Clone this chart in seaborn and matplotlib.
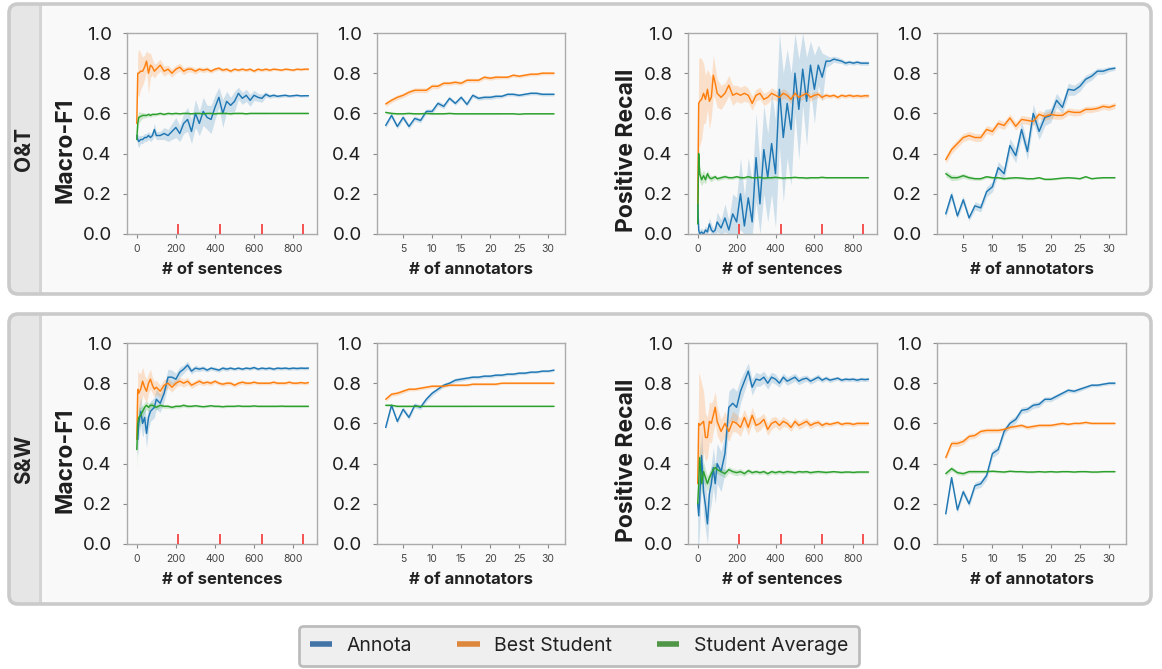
import matplotlib
matplotlib.use("Agg")
import matplotlib.pyplot as plt
import seaborn as sns
import numpy as np
from matplotlib.patches import FancyBboxPatch, Rectangle
from matplotlib.lines import Line2D

sns.set_theme(style="ticks")
plt.rcParams["font.family"] = ["Inter", "DejaVu Sans"]

# ---------------- data ----------------
series_names = ["Annota", "Best Student", "Student Average"]
row_names = ["O&T", "S&W"]
metric_names = ["Macro-F1", "Positive Recall"]
red_marks = [213, 426, 639, 852]

x_sent = [0, 5, 10, 20, 30, 40, 50, 60, 70, 80, 90, 100, 120, 140, 160, 180, 200, 220, 240, 260,
          280, 300, 320, 340, 360, 380, 400, 420, 440, 460, 480, 500, 520, 540, 560, 580, 600, 620,
          640, 660, 680, 700, 720, 740, 760, 780, 800, 820, 840, 860, 878]
x_ann = [2, 3, 4, 5, 6, 7, 8, 9, 10, 11, 12, 13, 14, 15, 16, 17, 18, 19, 20, 21, 22, 23, 24, 25,
         26, 27, 28, 29, 30, 31]

# O&T, Macro-F1 vs sentences
ot_f1_s_annota = [0.49, 0.47, 0.46, 0.47, 0.47, 0.48, 0.48, 0.49, 0.48, 0.49,
                  0.52, 0.49, 0.49, 0.50, 0.49, 0.51, 0.53, 0.50, 0.55, 0.57,
                  0.51, 0.60, 0.55, 0.61, 0.58, 0.57, 0.63, 0.68, 0.60, 0.66,
                  0.64, 0.66, 0.70, 0.675, 0.69, 0.665, 0.69, 0.68, 0.675, 0.695,
                  0.685, 0.69, 0.685, 0.688, 0.69, 0.686, 0.688, 0.69, 0.687, 0.688, 0.688]
ot_f1_s_annota_ci = [0.02, 0.03, 0.03, 0.02, 0.02, 0.02, 0.02, 0.02, 0.02, 0.02,
                     0.03, 0.02, 0.02, 0.03, 0.03, 0.04, 0.05, 0.04, 0.05, 0.06,
                     0.06, 0.07, 0.06, 0.07, 0.06, 0.07, 0.06, 0.05, 0.07, 0.05,
                     0.04, 0.05, 0.03, 0.03, 0.03, 0.03, 0.025, 0.02, 0.02, 0.012,
                     0.01, 0.01, 0.008, 0.008, 0.008, 0.007, 0.007, 0.007, 0.006, 0.006, 0.006]
ot_f1_s_best = [0.55, 0.80, 0.80, 0.81, 0.81, 0.83, 0.86, 0.80, 0.84, 0.83,
                0.81, 0.82, 0.84, 0.81, 0.82, 0.80, 0.82, 0.83, 0.81, 0.82,
                0.82, 0.81, 0.82, 0.815, 0.82, 0.81, 0.82, 0.825, 0.815, 0.82,
                0.81, 0.82, 0.815, 0.82, 0.815, 0.82, 0.81, 0.82, 0.815, 0.82,
                0.815, 0.82, 0.818, 0.815, 0.82, 0.818, 0.815, 0.82, 0.818, 0.82, 0.82]
ot_f1_s_best_ci = [0.02, 0.10, 0.12, 0.09, 0.07, 0.06, 0.05, 0.10, 0.06, 0.04,
                   0.035, 0.03, 0.03, 0.025, 0.02, 0.02, 0.02, 0.02, 0.018, 0.015,
                   0.015, 0.015, 0.012, 0.012, 0.012, 0.01, 0.01, 0.01, 0.01, 0.01,
                   0.008, 0.008, 0.008, 0.008, 0.008, 0.008, 0.008, 0.008, 0.008, 0.008,
                   0.008, 0.006, 0.006, 0.006, 0.006, 0.006, 0.006, 0.006, 0.006, 0.006, 0.006]
ot_f1_s_avg = [0.47, 0.55, 0.58, 0.585, 0.59, 0.59, 0.59, 0.595, 0.59, 0.595,
               0.595, 0.595, 0.60, 0.595, 0.60, 0.598, 0.60, 0.598, 0.60, 0.60,
               0.598, 0.60, 0.60, 0.598, 0.60, 0.60, 0.598, 0.60, 0.60, 0.60,
               0.598, 0.60, 0.60, 0.60, 0.598, 0.60, 0.60, 0.60, 0.60, 0.60,
               0.60, 0.60, 0.60, 0.60, 0.60, 0.60, 0.60, 0.60, 0.60, 0.60, 0.60]
ot_f1_s_avg_ci = [0.02, 0.04, 0.03, 0.02, 0.015, 0.012, 0.01, 0.01, 0.01, 0.008,
                  0.008, 0.007, 0.007, 0.006, 0.006, 0.006, 0.006, 0.005, 0.005, 0.005,
                  0.005, 0.005, 0.005, 0.005, 0.005, 0.005, 0.005, 0.005, 0.005, 0.005,
                  0.005, 0.005, 0.005, 0.005, 0.005, 0.005, 0.005, 0.005, 0.005, 0.005,
                  0.004, 0.004, 0.004, 0.004, 0.004, 0.004, 0.004, 0.004, 0.004, 0.004, 0.004]

# O&T, Positive Recall vs sentences
ot_rc_s_annota = [0.15, 0.02, 0.00, 0.01, 0.00, 0.02, 0.01, 0.05, 0.02, 0.01,
                  0.02, 0.06, 0.03, 0.08, 0.02, 0.10, 0.06, 0.20, 0.04, 0.18,
                  0.06, 0.38, 0.15, 0.42, 0.28, 0.45, 0.30, 0.72, 0.48, 0.65,
                  0.52, 0.80, 0.62, 0.82, 0.66, 0.84, 0.72, 0.84, 0.78, 0.86,
                  0.86, 0.87, 0.865, 0.86, 0.85, 0.855, 0.85, 0.855, 0.85, 0.85, 0.85]
ot_rc_s_annota_ci = [0.10, 0.03, 0.02, 0.02, 0.02, 0.02, 0.02, 0.03, 0.03, 0.02,
                     0.03, 0.05, 0.04, 0.07, 0.05, 0.10, 0.12, 0.18, 0.15, 0.20,
                     0.20, 0.22, 0.20, 0.22, 0.22, 0.25, 0.27, 0.28, 0.32, 0.27,
                     0.28, 0.20, 0.25, 0.18, 0.22, 0.12, 0.17, 0.10, 0.12, 0.03,
                     0.02, 0.015, 0.015, 0.012, 0.012, 0.01, 0.01, 0.01, 0.01, 0.01, 0.01]
ot_rc_s_best = [0.15, 0.65, 0.66, 0.67, 0.70, 0.67, 0.72, 0.66, 0.68, 0.79,
                0.75, 0.70, 0.68, 0.70, 0.74, 0.69, 0.70, 0.69, 0.70, 0.69,
                0.65, 0.69, 0.70, 0.67, 0.68, 0.70, 0.69, 0.68, 0.70, 0.69,
                0.67, 0.70, 0.68, 0.69, 0.70, 0.68, 0.69, 0.695, 0.68, 0.69,
                0.685, 0.69, 0.68, 0.69, 0.685, 0.69, 0.685, 0.688, 0.685, 0.688, 0.687]
ot_rc_s_best_ci = [0.10, 0.22, 0.22, 0.20, 0.15, 0.12, 0.10, 0.14, 0.10, 0.10,
                   0.08, 0.07, 0.06, 0.05, 0.05, 0.05, 0.04, 0.04, 0.04, 0.035,
                   0.035, 0.03, 0.03, 0.03, 0.03, 0.028, 0.025, 0.025, 0.025, 0.02,
                   0.02, 0.02, 0.02, 0.02, 0.02, 0.02, 0.018, 0.015, 0.015, 0.012,
                   0.01, 0.01, 0.01, 0.01, 0.01, 0.01, 0.01, 0.01, 0.01, 0.01, 0.01]
ot_rc_s_avg = [0.05, 0.40, 0.30, 0.27, 0.29, 0.27, 0.30, 0.28, 0.275, 0.28,
               0.285, 0.275, 0.28, 0.285, 0.28, 0.28, 0.285, 0.28, 0.28, 0.285,
               0.28, 0.28, 0.282, 0.278, 0.28, 0.28, 0.282, 0.28, 0.278, 0.28,
               0.28, 0.282, 0.28, 0.28, 0.278, 0.28, 0.28, 0.28, 0.282, 0.28,
               0.28, 0.28, 0.28, 0.28, 0.28, 0.28, 0.28, 0.28, 0.28, 0.28, 0.28]
ot_rc_s_avg_ci = [0.05, 0.05, 0.04, 0.03, 0.03, 0.02, 0.02, 0.015, 0.015, 0.012,
                  0.01, 0.01, 0.01, 0.01, 0.008, 0.008, 0.008, 0.008, 0.007, 0.007,
                  0.006, 0.006, 0.006, 0.006, 0.006, 0.006, 0.006, 0.006, 0.006, 0.006,
                  0.005, 0.005, 0.005, 0.005, 0.005, 0.005, 0.005, 0.005, 0.005, 0.005,
                  0.004, 0.004, 0.004, 0.004, 0.004, 0.004, 0.004, 0.004, 0.004, 0.004, 0.004]

# S&W, Macro-F1 vs sentences
sw_f1_s_annota = [0.53, 0.52, 0.60, 0.66, 0.60, 0.63, 0.55, 0.63, 0.66, 0.67,
                  0.68, 0.72, 0.70, 0.75, 0.83, 0.83, 0.82, 0.855, 0.87, 0.89,
                  0.86, 0.875, 0.87, 0.875, 0.865, 0.875, 0.87, 0.865, 0.875, 0.87,
                  0.875, 0.87, 0.875, 0.87, 0.875, 0.872, 0.878, 0.87, 0.875, 0.872,
                  0.875, 0.87, 0.875, 0.873, 0.875, 0.872, 0.875, 0.873, 0.875, 0.874, 0.875]
sw_f1_s_annota_ci = [0.06, 0.08, 0.08, 0.07, 0.07, 0.06, 0.07, 0.06, 0.05, 0.05,
                     0.05, 0.05, 0.045, 0.04, 0.04, 0.035, 0.03, 0.025, 0.02, 0.02,
                     0.015, 0.015, 0.012, 0.012, 0.01, 0.01, 0.01, 0.01, 0.01, 0.01,
                     0.008, 0.008, 0.008, 0.008, 0.008, 0.008, 0.008, 0.008, 0.008, 0.008,
                     0.008, 0.008, 0.008, 0.008, 0.008, 0.008, 0.008, 0.008, 0.008, 0.008, 0.008]
sw_f1_s_best = [0.52, 0.77, 0.75, 0.77, 0.81, 0.78, 0.76, 0.80, 0.82, 0.79,
                0.77, 0.78, 0.76, 0.79, 0.80, 0.78, 0.80, 0.81, 0.80, 0.81,
                0.79, 0.80, 0.81, 0.80, 0.805, 0.80, 0.81, 0.80, 0.795, 0.80,
                0.80, 0.79, 0.80, 0.805, 0.80, 0.80, 0.805, 0.80, 0.80, 0.80,
                0.80, 0.805, 0.80, 0.80, 0.80, 0.805, 0.80, 0.80, 0.803, 0.80, 0.803]
sw_f1_s_best_ci = [0.05, 0.10, 0.10, 0.08, 0.07, 0.06, 0.06, 0.05, 0.05, 0.04,
                   0.04, 0.035, 0.03, 0.03, 0.025, 0.025, 0.02, 0.02, 0.02, 0.018,
                   0.015, 0.015, 0.015, 0.012, 0.012, 0.012, 0.01, 0.01, 0.01, 0.01,
                   0.01, 0.01, 0.01, 0.01, 0.01, 0.008, 0.008, 0.008, 0.008, 0.008,
                   0.008, 0.008, 0.008, 0.008, 0.008, 0.008, 0.008, 0.008, 0.008, 0.008, 0.008]
sw_f1_s_avg = [0.47, 0.60, 0.63, 0.64, 0.66, 0.68, 0.69, 0.68, 0.69, 0.69,
               0.685, 0.68, 0.69, 0.685, 0.685, 0.68, 0.685, 0.685, 0.69, 0.685,
               0.685, 0.688, 0.685, 0.683, 0.685, 0.688, 0.685, 0.685, 0.683, 0.685,
               0.685, 0.685, 0.687, 0.685, 0.685, 0.685, 0.687, 0.685, 0.685, 0.685,
               0.685, 0.685, 0.685, 0.686, 0.685, 0.685, 0.685, 0.685, 0.685, 0.685, 0.685]
sw_f1_s_avg_ci = [0.10, 0.06, 0.05, 0.04, 0.03, 0.025, 0.02, 0.02, 0.015, 0.015,
                  0.012, 0.012, 0.01, 0.01, 0.01, 0.008, 0.008, 0.008, 0.008, 0.008,
                  0.006, 0.006, 0.006, 0.006, 0.006, 0.006, 0.006, 0.006, 0.006, 0.006,
                  0.005, 0.005, 0.005, 0.005, 0.005, 0.005, 0.005, 0.005, 0.005, 0.005,
                  0.005, 0.005, 0.005, 0.005, 0.005, 0.005, 0.005, 0.005, 0.005, 0.005, 0.005]

# S&W, Positive Recall vs sentences
sw_rc_s_annota = [0.20, 0.14, 0.22, 0.44, 0.26, 0.19, 0.10, 0.25, 0.30, 0.38,
                  0.30, 0.40, 0.36, 0.45, 0.68, 0.70, 0.68, 0.76, 0.81, 0.86,
                  0.78, 0.82, 0.815, 0.83, 0.80, 0.83, 0.82, 0.80, 0.83, 0.81,
                  0.82, 0.83, 0.81, 0.82, 0.825, 0.81, 0.82, 0.83, 0.815, 0.825,
                  0.815, 0.82, 0.825, 0.815, 0.82, 0.818, 0.82, 0.815, 0.82, 0.818, 0.82]
sw_rc_s_annota_ci = [0.20, 0.15, 0.15, 0.12, 0.12, 0.12, 0.10, 0.10, 0.10, 0.10,
                     0.10, 0.10, 0.10, 0.10, 0.08, 0.08, 0.08, 0.06, 0.05, 0.04,
                     0.04, 0.035, 0.03, 0.03, 0.03, 0.025, 0.025, 0.02, 0.02, 0.02,
                     0.02, 0.02, 0.018, 0.018, 0.015, 0.015, 0.015, 0.015, 0.012, 0.012,
                     0.012, 0.01, 0.01, 0.01, 0.01, 0.01, 0.01, 0.01, 0.01, 0.01, 0.01]
sw_rc_s_best = [0.30, 0.60, 0.59, 0.60, 0.61, 0.53, 0.53, 0.61, 0.60, 0.64,
                0.68, 0.61, 0.56, 0.60, 0.56, 0.61, 0.60, 0.58, 0.63, 0.58,
                0.64, 0.59, 0.60, 0.62, 0.57, 0.60, 0.61, 0.59, 0.61, 0.60,
                0.58, 0.61, 0.59, 0.60, 0.61, 0.59, 0.60, 0.605, 0.59, 0.60,
                0.595, 0.60, 0.605, 0.595, 0.60, 0.60, 0.595, 0.60, 0.60, 0.60, 0.60]
sw_rc_s_best_ci = [0.10, 0.25, 0.25, 0.20, 0.15, 0.12, 0.10, 0.10, 0.10, 0.08,
                   0.08, 0.07, 0.06, 0.06, 0.05, 0.05, 0.045, 0.045, 0.04, 0.04,
                   0.04, 0.035, 0.035, 0.03, 0.03, 0.03, 0.025, 0.025, 0.025, 0.02,
                   0.02, 0.02, 0.02, 0.02, 0.018, 0.018, 0.015, 0.015, 0.012, 0.012,
                   0.01, 0.01, 0.01, 0.01, 0.01, 0.01, 0.01, 0.01, 0.01, 0.01, 0.01]
sw_rc_s_avg = [0.20, 0.30, 0.43, 0.30, 0.36, 0.33, 0.30, 0.33, 0.35, 0.37,
               0.38, 0.37, 0.36, 0.35, 0.37, 0.36, 0.355, 0.36, 0.35, 0.365,
               0.355, 0.36, 0.355, 0.36, 0.35, 0.36, 0.355, 0.36, 0.355, 0.36,
               0.358, 0.355, 0.36, 0.358, 0.36, 0.355, 0.358, 0.36, 0.358, 0.356,
               0.358, 0.36, 0.358, 0.356, 0.358, 0.358, 0.356, 0.358, 0.358, 0.358, 0.358]
sw_rc_s_avg_ci = [0.06, 0.08, 0.08, 0.06, 0.05, 0.04, 0.04, 0.03, 0.03, 0.03,
                  0.025, 0.02, 0.02, 0.02, 0.015, 0.015, 0.015, 0.015, 0.012, 0.012,
                  0.01, 0.01, 0.01, 0.01, 0.01, 0.01, 0.01, 0.01, 0.01, 0.01,
                  0.008, 0.008, 0.008, 0.008, 0.008, 0.008, 0.008, 0.008, 0.008, 0.008,
                  0.006, 0.006, 0.006, 0.006, 0.006, 0.006, 0.006, 0.006, 0.006, 0.006, 0.006]

# O&T, Macro-F1 vs annotators
ot_f1_a_annota = [0.54, 0.59, 0.535, 0.58, 0.535, 0.575, 0.565, 0.61, 0.61, 0.65,
                  0.635, 0.675, 0.65, 0.68, 0.645, 0.69, 0.675, 0.68, 0.68, 0.685,
                  0.685, 0.695, 0.695, 0.69, 0.695, 0.70, 0.70, 0.695, 0.695, 0.695]
ot_f1_a_annota_ci = [0.012, 0.012, 0.012, 0.012, 0.012, 0.012, 0.012, 0.012, 0.012, 0.012,
                     0.012, 0.01, 0.01, 0.01, 0.01, 0.01, 0.01, 0.01, 0.01, 0.01,
                     0.008, 0.008, 0.008, 0.008, 0.008, 0.008, 0.008, 0.008, 0.008, 0.008]
ot_f1_a_best = [0.647, 0.665, 0.68, 0.69, 0.705, 0.715, 0.715, 0.715, 0.735, 0.735,
                0.75, 0.75, 0.755, 0.75, 0.765, 0.765, 0.765, 0.78, 0.775, 0.78,
                0.78, 0.78, 0.79, 0.785, 0.79, 0.795, 0.795, 0.80, 0.80, 0.80]
ot_f1_a_best_ci = [0.012, 0.012, 0.012, 0.012, 0.012, 0.012, 0.012, 0.012, 0.012, 0.012,
                   0.01, 0.01, 0.01, 0.01, 0.01, 0.01, 0.01, 0.01, 0.01, 0.01,
                   0.008, 0.008, 0.008, 0.008, 0.008, 0.008, 0.008, 0.008, 0.008, 0.008]
ot_f1_a_avg = [0.605, 0.60, 0.598, 0.598, 0.60, 0.598, 0.598, 0.60, 0.598, 0.598,
               0.598, 0.60, 0.598, 0.598, 0.598, 0.598, 0.598, 0.598, 0.598, 0.598,
               0.598, 0.598, 0.598, 0.596, 0.598, 0.598, 0.598, 0.598, 0.598, 0.598]
ot_f1_a_avg_ci = [0.006, 0.006, 0.005, 0.005, 0.005, 0.005, 0.005, 0.004, 0.004, 0.004,
                  0.004, 0.004, 0.004, 0.004, 0.004, 0.004, 0.004, 0.004, 0.004, 0.004,
                  0.003, 0.003, 0.003, 0.003, 0.003, 0.003, 0.003, 0.003, 0.003, 0.003]

# O&T, Positive Recall vs annotators
ot_rc_a_annota = [0.10, 0.195, 0.09, 0.17, 0.08, 0.14, 0.13, 0.21, 0.235, 0.33,
                  0.30, 0.44, 0.39, 0.52, 0.41, 0.60, 0.51, 0.58, 0.59, 0.665,
                  0.63, 0.72, 0.715, 0.735, 0.77, 0.785, 0.81, 0.81, 0.82, 0.825]
ot_rc_a_annota_ci = [0.02, 0.02, 0.015, 0.02, 0.015, 0.02, 0.02, 0.025, 0.025, 0.03,
                     0.03, 0.035, 0.035, 0.04, 0.04, 0.045, 0.04, 0.04, 0.035, 0.035,
                     0.03, 0.03, 0.025, 0.025, 0.02, 0.02, 0.015, 0.015, 0.012, 0.01]
ot_rc_a_best = [0.37, 0.42, 0.45, 0.48, 0.49, 0.48, 0.48, 0.52, 0.51, 0.55,
                0.54, 0.577, 0.536, 0.57, 0.565, 0.56, 0.595, 0.585, 0.595, 0.59,
                0.59, 0.61, 0.605, 0.605, 0.62, 0.62, 0.625, 0.635, 0.63, 0.64]
ot_rc_a_best_ci = [0.02, 0.02, 0.02, 0.02, 0.02, 0.02, 0.02, 0.02, 0.02, 0.02,
                   0.02, 0.02, 0.02, 0.02, 0.02, 0.02, 0.02, 0.02, 0.02, 0.02,
                   0.018, 0.018, 0.018, 0.016, 0.016, 0.016, 0.015, 0.015, 0.015, 0.015]
ot_rc_a_avg = [0.30, 0.28, 0.28, 0.29, 0.28, 0.275, 0.275, 0.285, 0.28, 0.28,
               0.275, 0.278, 0.28, 0.278, 0.275, 0.275, 0.28, 0.272, 0.272, 0.275,
               0.278, 0.28, 0.278, 0.275, 0.285, 0.275, 0.278, 0.28, 0.28, 0.28]
ot_rc_a_avg_ci = [0.015, 0.015, 0.012, 0.012, 0.01, 0.008, 0.008, 0.007, 0.007, 0.006,
                  0.006, 0.006, 0.006, 0.006, 0.006, 0.005, 0.005, 0.005, 0.005, 0.005,
                  0.005, 0.005, 0.005, 0.005, 0.005, 0.004, 0.004, 0.004, 0.004, 0.004]

# S&W, Macro-F1 vs annotators
sw_f1_a_annota = [0.58, 0.69, 0.61, 0.67, 0.63, 0.69, 0.68, 0.72, 0.75, 0.77,
                  0.79, 0.80, 0.815, 0.82, 0.825, 0.83, 0.83, 0.835, 0.835, 0.84,
                  0.84, 0.845, 0.845, 0.85, 0.85, 0.855, 0.855, 0.86, 0.86, 0.865]
sw_f1_a_annota_ci = [0.012, 0.012, 0.012, 0.012, 0.012, 0.012, 0.012, 0.012, 0.012, 0.01,
                     0.01, 0.01, 0.01, 0.01, 0.008, 0.008, 0.008, 0.008, 0.008, 0.008,
                     0.007, 0.007, 0.007, 0.007, 0.007, 0.006, 0.006, 0.006, 0.006, 0.006]
sw_f1_a_best = [0.72, 0.745, 0.75, 0.76, 0.77, 0.77, 0.775, 0.78, 0.785, 0.785,
                0.785, 0.79, 0.79, 0.79, 0.79, 0.795, 0.795, 0.795, 0.795, 0.795,
                0.80, 0.80, 0.80, 0.80, 0.80, 0.80, 0.80, 0.80, 0.80, 0.80]
sw_f1_a_best_ci = [0.01, 0.01, 0.01, 0.01, 0.008, 0.008, 0.008, 0.008, 0.008, 0.008,
                   0.006, 0.006, 0.006, 0.006, 0.006, 0.006, 0.006, 0.006, 0.006, 0.006,
                   0.005, 0.005, 0.005, 0.005, 0.005, 0.005, 0.005, 0.005, 0.005, 0.005]
sw_f1_a_avg = [0.69, 0.69, 0.685, 0.685, 0.685, 0.685, 0.685, 0.685, 0.685, 0.685,
               0.685, 0.685, 0.685, 0.685, 0.685, 0.685, 0.685, 0.685, 0.685, 0.685,
               0.685, 0.685, 0.685, 0.685, 0.685, 0.685, 0.685, 0.685, 0.685, 0.685]
sw_f1_a_avg_ci = [0.006, 0.006, 0.005, 0.005, 0.005, 0.004, 0.004, 0.004, 0.004, 0.004,
                  0.004, 0.004, 0.004, 0.004, 0.004, 0.003, 0.003, 0.003, 0.003, 0.003,
                  0.003, 0.003, 0.003, 0.003, 0.003, 0.003, 0.003, 0.003, 0.003, 0.003]

# S&W, Positive Recall vs annotators
sw_rc_a_annota = [0.15, 0.33, 0.17, 0.26, 0.20, 0.29, 0.30, 0.34, 0.45, 0.47,
                  0.56, 0.60, 0.62, 0.665, 0.67, 0.69, 0.695, 0.72, 0.72, 0.735,
                  0.75, 0.765, 0.76, 0.77, 0.78, 0.79, 0.79, 0.795, 0.80, 0.80]
sw_rc_a_annota_ci = [0.015, 0.015, 0.015, 0.015, 0.015, 0.018, 0.018, 0.02, 0.02, 0.02,
                     0.02, 0.018, 0.018, 0.016, 0.015, 0.015, 0.015, 0.012, 0.012, 0.012,
                     0.01, 0.01, 0.01, 0.01, 0.008, 0.008, 0.008, 0.008, 0.008, 0.008]
sw_rc_a_best = [0.43, 0.50, 0.50, 0.51, 0.535, 0.54, 0.56, 0.565, 0.565, 0.565,
                0.57, 0.58, 0.585, 0.59, 0.58, 0.585, 0.59, 0.59, 0.59, 0.595,
                0.60, 0.595, 0.60, 0.60, 0.605, 0.60, 0.60, 0.60, 0.60, 0.60]
sw_rc_a_best_ci = [0.015, 0.015, 0.015, 0.015, 0.014, 0.014, 0.012, 0.012, 0.012, 0.012,
                   0.01, 0.01, 0.01, 0.01, 0.01, 0.01, 0.008, 0.008, 0.008, 0.008,
                   0.008, 0.007, 0.007, 0.007, 0.007, 0.006, 0.006, 0.006, 0.006, 0.006]
sw_rc_a_avg = [0.35, 0.375, 0.355, 0.35, 0.36, 0.36, 0.36, 0.36, 0.362, 0.36,
               0.358, 0.362, 0.36, 0.36, 0.358, 0.358, 0.36, 0.358, 0.36, 0.358,
               0.36, 0.36, 0.358, 0.36, 0.36, 0.358, 0.358, 0.36, 0.36, 0.36]
sw_rc_a_avg_ci = [0.012, 0.012, 0.01, 0.01, 0.008, 0.008, 0.007, 0.006, 0.006, 0.006,
                  0.005, 0.005, 0.005, 0.005, 0.005, 0.005, 0.004, 0.004, 0.004, 0.004,
                  0.004, 0.004, 0.004, 0.004, 0.004, 0.004, 0.004, 0.004, 0.004, 0.004]

# ---------------- styling ----------------
line_colors = ["#1f77b4", "#ff7f0e", "#2ca02c"]
legend_colors = ["#4374a7", "#dd873d", "#4f9646"]

W, H = 1162, 669
fig = plt.figure(figsize=(W / 100, H / 100), dpi=100)
fig.patch.set_facecolor("white")


def inch_rect(x0, y0, x1, y1):
    # pixel (top-left origin) -> inches (bottom-left origin)
    return x0 / 100, (H - y1) / 100, (x1 - x0) / 100, (y1 - y0) / 100


def fig_box(x0, y0, x1, y1):
    return [x0 / W, 1 - y1 / H, (x1 - x0) / W, (y1 - y0) / H]


# panel backgrounds
for (top, bot, label) in [(4, 294, row_names[0]), (314, 604, row_names[1])]:
    x, y, w, h = inch_rect(9, top, 1151, bot)
    panel = FancyBboxPatch((x, y), w, h, boxstyle="round,pad=0,rounding_size=0.09",
                           transform=fig.dpi_scale_trans, facecolor="#f9f9f9",
                           edgecolor="none", zorder=-3)
    fig.patches.append(panel)
    sx, sy, sw, sh = inch_rect(9, top, 40, bot)
    strip = Rectangle((sx, sy), sw, sh, transform=fig.dpi_scale_trans,
                      facecolor="#e6e6e6", edgecolor="none", zorder=-2.5)
    strip.set_clip_path(panel)
    fig.patches.append(strip)
    dx, dy, dw, dh = inch_rect(39, top, 42, bot)
    div = Rectangle((dx, dy), dw, dh, transform=fig.dpi_scale_trans,
                    facecolor="#d4d4d4", edgecolor="none", zorder=-2.4)
    fig.patches.append(div)
    border = FancyBboxPatch((x, y), w, h, boxstyle="round,pad=0,rounding_size=0.09",
                            transform=fig.dpi_scale_trans, facecolor="none",
                            edgecolor="#cacaca", linewidth=2.6, zorder=-2)
    fig.patches.append(border)
    fig.text(24 / W, 1 - ((top + bot) / 2) / H, label, rotation=90, ha="center",
             va="center", fontsize=15, fontweight="bold", color="#222222")

col_px = [(127, 317), (377, 565), (688, 877), (937, 1126)]
row_px = [(33, 234), (343, 544)]

panel_data = {
    (0, 0): (x_sent, [(ot_f1_s_annota, ot_f1_s_annota_ci), (ot_f1_s_best, ot_f1_s_best_ci), (ot_f1_s_avg, ot_f1_s_avg_ci)]),
    (0, 1): (x_ann, [(ot_f1_a_annota, ot_f1_a_annota_ci), (ot_f1_a_best, ot_f1_a_best_ci), (ot_f1_a_avg, ot_f1_a_avg_ci)]),
    (0, 2): (x_sent, [(ot_rc_s_annota, ot_rc_s_annota_ci), (ot_rc_s_best, ot_rc_s_best_ci), (ot_rc_s_avg, ot_rc_s_avg_ci)]),
    (0, 3): (x_ann, [(ot_rc_a_annota, ot_rc_a_annota_ci), (ot_rc_a_best, ot_rc_a_best_ci), (ot_rc_a_avg, ot_rc_a_avg_ci)]),
    (1, 0): (x_sent, [(sw_f1_s_annota, sw_f1_s_annota_ci), (sw_f1_s_best, sw_f1_s_best_ci), (sw_f1_s_avg, sw_f1_s_avg_ci)]),
    (1, 1): (x_ann, [(sw_f1_a_annota, sw_f1_a_annota_ci), (sw_f1_a_best, sw_f1_a_best_ci), (sw_f1_a_avg, sw_f1_a_avg_ci)]),
    (1, 2): (x_sent, [(sw_rc_s_annota, sw_rc_s_annota_ci), (sw_rc_s_best, sw_rc_s_best_ci), (sw_rc_s_avg, sw_rc_s_avg_ci)]),
    (1, 3): (x_ann, [(sw_rc_a_annota, sw_rc_a_annota_ci), (sw_rc_a_best, sw_rc_a_best_ci), (sw_rc_a_avg, sw_rc_a_avg_ci)]),
}

for r, (ty, by) in enumerate(row_px):
    for c, (lx, rx) in enumerate(col_px):
        ax = fig.add_axes(fig_box(lx, ty, rx, by))
        ax.set_zorder(2)
        ax.set_facecolor("none")
        xs, series = panel_data[(r, c)]
        xs_arr = np.asarray(xs, dtype=float)
        for (mean, ci), color, name in zip(series, line_colors, series_names):
            m = np.asarray(mean)
            e = np.asarray(ci)
            ax.fill_between(xs_arr, np.clip(m - e, 0, 1), np.clip(m + e, 0, 1),
                            color=color, alpha=0.2, linewidth=0)
            sns.lineplot(x=xs_arr, y=m, ax=ax, color=color, linewidth=1.05,
                         errorbar=None, label=name, legend=False)
        sentences = (c % 2 == 0)
        if sentences:
            ax.vlines(red_marks, 0, 0.05, color="#f44444", linewidth=1.3, zorder=5)
            ax.set_xlim(-50, 922)
            ax.set_xticks([0, 200, 400, 600, 800])
            ax.set_xlabel("# of sentences", fontsize=12, fontweight="bold", color="#222222")
        else:
            ax.set_xlim(0.5, 32.9)
            ax.set_xticks([5, 10, 15, 20, 25, 30])
            ax.set_xlabel("# of annotators", fontsize=12, fontweight="bold", color="#222222")
        ax.set_ylim(0, 1)
        ax.set_yticks([0, 0.2, 0.4, 0.6, 0.8, 1.0])
        ax.set_yticklabels(["0.0", "0.2", "0.4", "0.6", "0.8", "1.0"])
        ax.tick_params(axis="y", labelsize=13.5, labelcolor="#1e1e1e", length=3,
                       width=0.8, color="#8a8a8a", pad=8)
        ax.tick_params(axis="x", labelsize=7.5, labelcolor="#444444", length=3,
                       width=0.8, color="#8a8a8a", pad=4)
        for sp in ax.spines.values():
            sp.set_visible(True)
            sp.set_color("#ababab")
            sp.set_linewidth(1.0)
        ax.xaxis.set_label_coords(0.5, -0.14)
        if c == 0:
            ax.set_ylabel(metric_names[0], fontsize=16.5, fontweight="bold", color="#1e1e1e")
            ax.yaxis.set_label_coords(-0.265, 0.418)
        elif c == 2:
            ax.set_ylabel(metric_names[1], fontsize=16.5, fontweight="bold", color="#1e1e1e")
            ax.yaxis.set_label_coords(-0.265, 0.418)
        else:
            ax.set_ylabel("")

# legend
handles = [Line2D([0], [0], color=col, linewidth=4, solid_capstyle="butt") for col in legend_colors]
leg = fig.legend(handles, series_names, loc="center", bbox_to_anchor=(579 / W, 1 - 646 / H),
                 ncol=3, fontsize=14, frameon=True, fancybox=True, handlelength=1.15,
                 handletextpad=0.75, columnspacing=2.3, borderpad=0.55)
leg.set_zorder(5)
frame = leg.get_frame()
frame.set_facecolor("#efefef")
frame.set_edgecolor("#bcbcbc")
frame.set_linewidth(2.0)
frame.set_alpha(1)
for t in leg.get_texts():
    t.set_color("#222222")

fig.savefig("out.png", dpi=100, facecolor="white")
